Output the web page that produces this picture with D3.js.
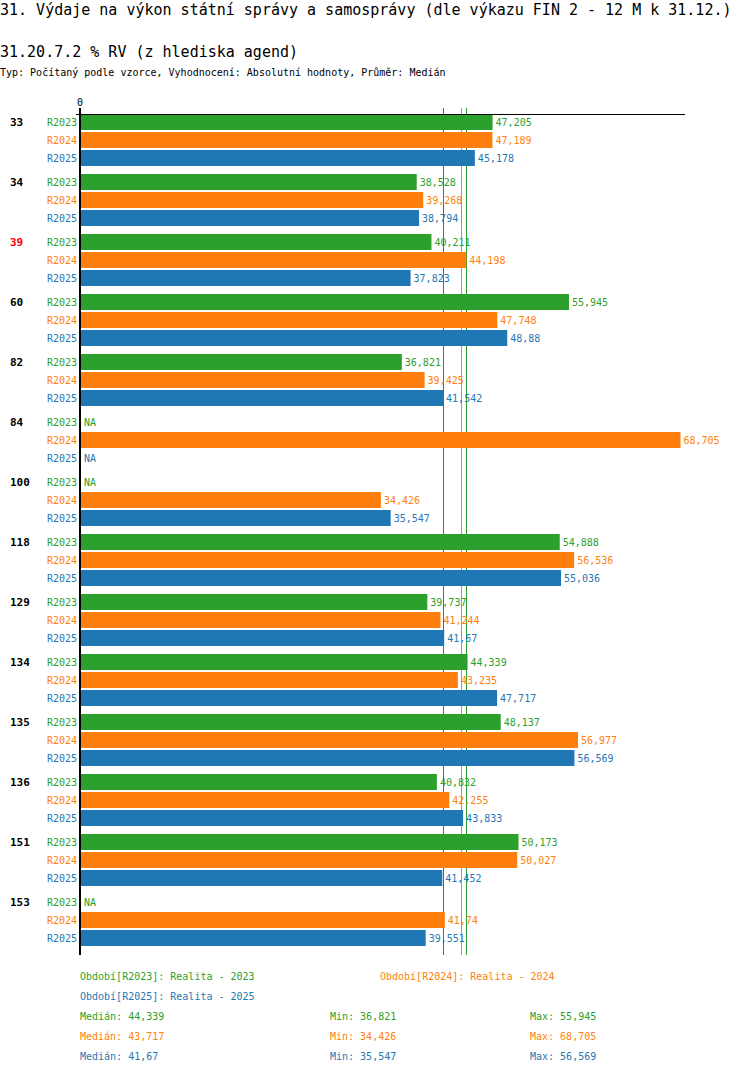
<!DOCTYPE html>
<html>
<head>
<meta charset="utf-8">
<script src="https://cdn.jsdelivr.net/npm/d3@7"></script>
<style>
  body { margin: 0; background: #fff; }
  text { font-family: "DejaVu Sans Mono", monospace; }
</style>
</head>
<body>
<svg id="chart" width="750" height="1074"></svg>
<script>
// categories (agendy) and series
const categories = ["33", "34", "39", "60", "82", "84", "100", "118", "129", "134", "135", "136", "151", "153"];
const highlighted = ["39"];
const series = ["R2023", "R2024", "R2025"];
const seriesNames = ["Realita - 2023", "Realita - 2024", "Realita - 2025"];
const colors = ["#2ca02c", "#ff7f0e", "#1f77b4"];

// values per series (null = NA)
const r2023 = [47.205, 38.528, 40.211, 55.945, 36.821, null, null, 54.888, 39.737, 44.339, 48.137, 40.832, 50.173, null];
const r2024 = [47.189, 39.268, 44.198, 47.748, 39.425, 68.705, 34.426, 56.536, 41.244, 43.235, 56.977, 42.255, 50.027, 41.74];
const r2025 = [45.178, 38.794, 37.823, 48.88, 41.542, null, 35.547, 55.036, 41.67, 47.717, 56.569, 43.833, 41.452, 39.551];
const values = [r2023, r2024, r2025];

// summary stats
const medians = [44.339, 43.717, 41.67];
const mins = [36.821, 34.426, 35.547];
const maxs = [55.945, 68.705, 56.569];

const fmt = v => String(+v.toFixed(3)).replace(".", ",");

const svg = d3.select("#chart");

// header
svg.append("text").attr("x", 0).attr("y", 15).style("font-size", "15px")
  .text("31. Výdaje na výkon státní správy a samosprávy (dle výkazu FIN 2 - 12 M k 31.12.)");
svg.append("text").attr("x", 0).attr("y", 57).style("font-size", "15px")
  .text("31.20.7.2 % RV (z hlediska agend)");
svg.append("text").attr("x", 0).attr("y", 76).style("font-size", "10px")
  .text("Typ: Počítaný podle vzorce, Vyhodnocení: Absolutní hodnoty, Průměr: Medián");

const x = d3.scaleLinear().domain([0, 68.705]).range([80, 680.5]);
const y = d3.scaleBand().domain(categories).range([114, 954]);
const yInner = d3.scaleBand().domain(series).range([0, 52]).paddingInner(2 / 18);

// median lines (behind bars)
svg.append("g").selectAll("line").data(medians).enter().append("line")
  .attr("x1", d => Math.floor(x(d)) - 0.5).attr("x2", d => Math.floor(x(d)) - 0.5)
  .attr("y1", 108).attr("y2", 955)
  .attr("stroke", (d, i) => colors[i]).attr("stroke-width", 1);

// one row per category x series
const rowData = [];
categories.forEach((c, ci) => {
  series.forEach((s, si) => {
    rowData.push({ cat: c, s: s, si: si, v: values[si][ci] });
  });
});

// category labels
svg.append("g").selectAll("text").data(categories).enter().append("text")
  .attr("x", 10).attr("y", d => y(d) + yInner("R2023") + yInner.bandwidth() / 2 + 4)
  .style("font-size", "11px").style("font-weight", "bold")
  .attr("fill", d => highlighted.includes(d) ? "#ff0000" : "#000")
  .text(d => d);

const rows = svg.append("g").selectAll("g").data(rowData).enter().append("g")
  .attr("transform", d => `translate(0,${y(d.cat) + yInner(d.s)})`);

rows.append("text")
  .attr("x", 77).attr("y", yInner.bandwidth() / 2 + 4)
  .attr("text-anchor", "end").style("font-size", "10px")
  .attr("fill", d => colors[d.si]).text(d => d.s);

rows.filter(d => d.v !== null).append("rect")
  .attr("x", x(0))
  .attr("width", d => x(d.v) - x(0))
  .attr("height", yInner.bandwidth())
  .attr("fill", d => colors[d.si]);

rows.append("text")
  .attr("x", d => d.v === null ? x(0) + 4 : x(d.v) + 3)
  .attr("y", yInner.bandwidth() / 2 + 4)
  .style("font-size", "10px").attr("fill", d => colors[d.si])
  .text(d => d.v === null ? "NA" : fmt(d.v));

// axes
svg.append("line").attr("x1", 76).attr("x2", 685).attr("y1", 114.5).attr("y2", 114.5)
  .attr("stroke", "#000");
svg.append("line").attr("x1", x(0)).attr("x2", x(0)).attr("y1", 108).attr("y2", 955)
  .attr("stroke", "#000").attr("stroke-width", 2);
svg.append("text").attr("x", x(0)).attr("y", 106).attr("text-anchor", "middle")
  .style("font-size", "10px").text("0");

// legend
const legendPos = [[80, 976], [380, 976], [80, 996]];
series.forEach((s, i) => {
  svg.append("text").attr("x", legendPos[i][0]).attr("y", legendPos[i][1] + 4)
    .style("font-size", "10px").attr("fill", colors[i])
    .text(`Období[${s}]: ${seriesNames[i]}`);
});

// stats
series.forEach((s, i) => {
  const yy = 1016 + i * 20 + 4;
  svg.append("text").attr("x", 80).attr("y", yy).style("font-size", "10px")
    .attr("fill", colors[i]).text(`Medián: ${fmt(medians[i])}`);
  svg.append("text").attr("x", 330).attr("y", yy).style("font-size", "10px")
    .attr("fill", colors[i]).text(`Min: ${fmt(mins[i])}`);
  svg.append("text").attr("x", 530).attr("y", yy).style("font-size", "10px")
    .attr("fill", colors[i]).text(`Max: ${fmt(maxs[i])}`);
});
</script>
</body>
</html>
